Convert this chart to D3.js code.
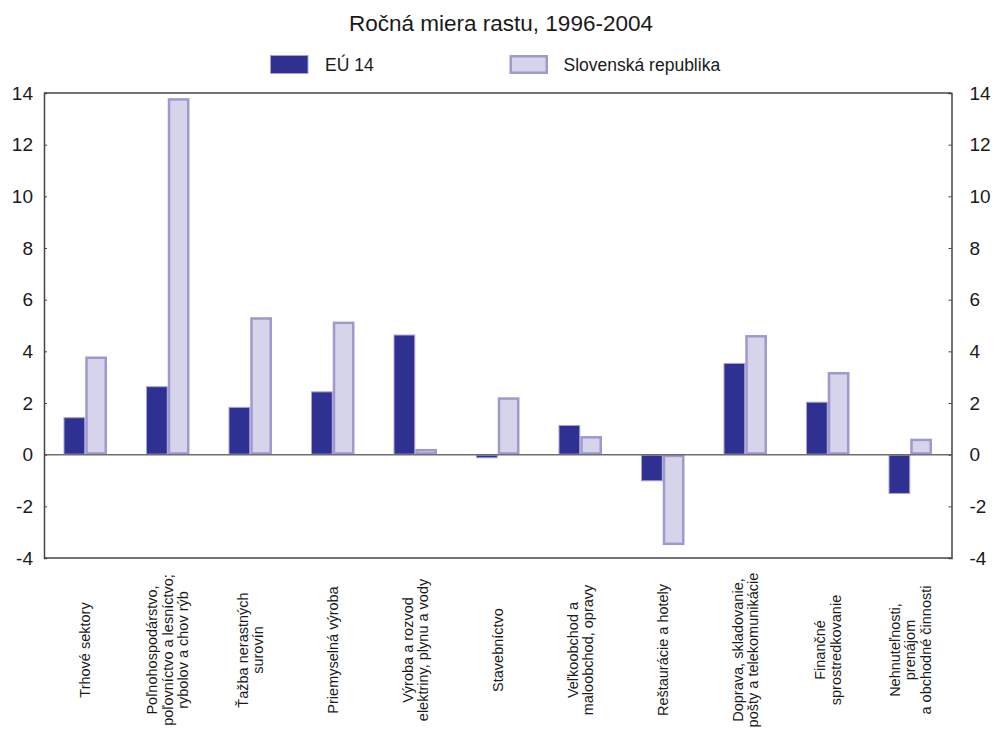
<!DOCTYPE html>
<html><head><meta charset="utf-8">
<script src="https://cdn.jsdelivr.net/npm/d3@7"></script>
<style>body{margin:0;background:#fff;} text{font-family:"Liberation Sans",Arial,sans-serif;fill:#1a1a1a;}</style>
</head><body>
<svg id="c" width="996" height="733"></svg>
<script>
const categories = [
  ["Trhové sektory"],
  ["Poľnohospodárstvo,", "poľovníctvo a lesníctvo;", "rybolov a chov rýb"],
  ["Ťažba nerastných", "surovín"],
  ["Priemyselná výroba"],
  ["Výroba a rozvod", "elektriny, plynu a vody"],
  ["Stavebníctvo"],
  ["Veľkoobchod a", "maloobchod, opravy"],
  ["Reštaurácie a hotely"],
  ["Doprava, skladovanie,", "pošty a telekomunikácie"],
  ["Finančné", "sprostredkovanie"],
  ["Nehnuteľnosti,", "prenájom", "a obchodné činnosti"]
];
const seriesNames = ["EÚ 14", "Slovenská republika"];
const eu14 = [1.45, 2.65, 1.85, 2.45, 4.65, -0.14, 1.15, -1.03, 3.55, 2.05, -1.52];
const slovakia = [3.8, 13.8, 5.32, 5.15, 0.22, 2.22, 0.72, -3.5, 4.63, 3.2, 0.62];
const yTicks = [-4, -2, 0, 2, 4, 6, 8, 10, 12, 14];
const title = "Ročná miera rastu, 1996-2004";

const svg = d3.select("#c");
const L = 44, R = 951.5, T = 93, B = 558;
const x = d3.scaleBand().domain(d3.range(categories.length)).range([L, R]).padding(0);
const y = d3.scaleLinear().domain([-4, 14]).range([B, T]);
const groupW = x.bandwidth() * 0.527;
const xi = d3.scaleBand().domain([0, 1]).range([0, groupW]).padding(0);
const colors = [{fill:"#2e3192", stroke:"#a6a2d6", sw:1}, {fill:"#d6d4ea", stroke:"#9e99cf", sw:2.5}];
const series = [eu14, slovakia];

// title
svg.append("text").attr("x", 501).attr("y", 31).attr("text-anchor", "middle")
  .style("font-size", "22.5px").text(title);

// legend
const legX = [270, 509.5];
seriesNames.forEach((n, i) => {
  const c = colors[i];
  svg.append("rect").attr("x", legX[i] + c.sw/2).attr("y", 55 + c.sw/2)
    .attr("width", 38.5 - c.sw).attr("height", 19 - c.sw)
    .attr("fill", c.fill).attr("stroke", c.stroke).attr("stroke-width", c.sw);
  svg.append("text").attr("x", legX[i] + (i === 0 ? 55 : 54)).attr("y", 71)
    .style("font-size", "17.5px").text(n);
});

// bars
series.forEach((vals, s) => {
  const c = colors[s];
  svg.append("g").selectAll("rect").data(vals).join("rect")
    .attr("x", (d, i) => x(i) + (x.bandwidth() - groupW) / 2 + xi(s) + c.sw/2)
    .attr("y", d => y(Math.max(0, d)) + c.sw/2)
    .attr("width", xi.bandwidth() - c.sw)
    .attr("height", d => Math.max(0.5, Math.abs(y(d) - y(0)) - c.sw))
    .attr("fill", c.fill).attr("stroke", c.stroke).attr("stroke-width", c.sw);
});

// zero line
svg.append("line").attr("x1", L).attr("x2", R).attr("y1", y(0)).attr("y2", y(0))
  .attr("stroke", "#6e6e6e").attr("stroke-width", 1.5);

// frame
svg.append("line").attr("x1", L).attr("x2", R).attr("y1", T).attr("y2", T).attr("stroke", "#444").attr("stroke-width", 1.5);
svg.append("line").attr("x1", L).attr("x2", R).attr("y1", B).attr("y2", B).attr("stroke", "#444").attr("stroke-width", 1.5);

// axes
const fmt = d => String(d);
const yl = svg.append("g").attr("transform", `translate(${L},0)`)
  .call(d3.axisLeft(y).tickValues(yTicks).tickSize(-3).tickPadding(11).tickFormat(fmt));
const yr = svg.append("g").attr("transform", `translate(${R},0)`)
  .call(d3.axisRight(y).tickValues(yTicks).tickSize(-3).tickPadding(18).tickFormat(fmt));
[yl, yr].forEach(g => {
  g.select(".domain").attr("stroke", "#444").attr("stroke-width", 1.5);
  g.selectAll(".tick line").attr("stroke", "#444");
  g.selectAll(".tick text").style("font-size", "19px").attr("fill", "#1a1a1a")
    .style("font-family", "'Liberation Sans', Arial, sans-serif");
});

// x labels (rotated)
const lh = 15.5;
categories.forEach((lines, i) => {
  const cx = x(i) + x.bandwidth() / 2;
  const g = svg.append("g").attr("transform", `translate(${cx},650) rotate(-90)`);
  lines.forEach((t, j) => {
    const off = (j - (lines.length - 1) / 2) * lh;
    g.append("text").attr("x", 0).attr("y", off).attr("dy", "0.35em")
      .attr("text-anchor", "middle").style("font-size", "14.5px").text(t);
  });
});
</script>
</body></html>
